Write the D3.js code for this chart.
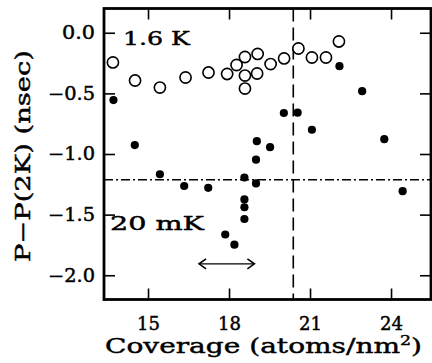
<!DOCTYPE html>
<html><head><meta charset="utf-8">
<script src="https://cdn.jsdelivr.net/npm/d3@7"></script>
<style>body{margin:0;background:#fff}svg{display:block}text{font-family:"DejaVu Serif",serif;fill:#000;stroke:#000;stroke-width:0.45px}</style>
</head><body><svg id="c" width="432" height="363"></svg>
<script>
// 1.6 K series (open circles)
const warmX = [13.70,14.52,15.44,16.39,17.24,17.93,18.28,18.59,19.06,18.59,19.04,18.59,19.54,20.04,20.57,21.07,21.59,22.07];
const warmY = [-0.245,-0.394,-0.452,-0.369,-0.328,-0.340,-0.266,-0.200,-0.175,-0.353,-0.336,-0.460,-0.258,-0.212,-0.130,-0.204,-0.204,-0.072];
// 20 mK series (filled dots)
const coldX = [13.72,14.51,15.44,16.34,17.23,17.86,18.20,18.57,18.57,18.57,18.57,19.00,19.00,19.03,19.52,20.03,20.54,21.07,22.09,22.93,23.75,24.43];
const coldY = [-0.555,-0.926,-1.167,-1.264,-1.279,-1.664,-1.748,-1.194,-1.375,-1.439,-1.536,-1.243,-1.047,-0.894,-0.944,-0.662,-0.659,-0.800,-0.276,-0.482,-0.878,-1.307];
const xTicks = [15,18,21,24];
const yTicks = [0,-0.5,-1.0,-1.5,-2.0];
const xDomain = [13.37,25.48];
const yDomain = [-2.2,0.2];
const vLineX = 20.38;      // dashed vertical line
const hLineY = -1.212;     // dash-dot horizontal line
const arrowX = [16.89,18.94];
const arrowY = -1.906;
const labels = [{t:"1.6 K",x:14.07,y:-0.101,w:67},{t:"20 mK",x:13.59,y:-1.627,w:94}];

const svg = d3.select("#c");
const L=104,R=431,T=8.5,B=299.5;
const x = d3.scaleLinear().domain(xDomain).range([L,R]);
const y = d3.scaleLinear().domain(yDomain).range([B,T]);

// reference lines
svg.append("line").attr("x1",x(vLineX)).attr("x2",x(vLineX)).attr("y1",T).attr("y2",B)
  .attr("stroke","#000").attr("stroke-width",1.6).attr("stroke-dasharray","13,6");
svg.append("line").attr("x1",L).attr("x2",R).attr("y1",y(hLineY)).attr("y2",y(hLineY))
  .attr("stroke","#000").attr("stroke-width",1.4).attr("stroke-dasharray","9,3,2,3");

// axes (inward ticks)
const tl=11;
svg.append("g").attr("transform",`translate(0,${B})`)
  .call(d3.axisBottom(x).tickValues(xTicks).tickSize(-tl).tickPadding(tl+7).tickFormat(d3.format("d")))
  .call(g=>{g.select(".domain").remove();g.selectAll("line").attr("stroke-width",1.6);
    g.selectAll("text").attr("font-size",18).attr("textLength",23).attr("lengthAdjust","spacingAndGlyphs");});
svg.append("g").attr("transform",`translate(0,${T})`)
  .call(d3.axisTop(x).tickValues(xTicks).tickSize(-tl).tickFormat(""))
  .call(g=>{g.select(".domain").remove();g.selectAll("line").attr("stroke-width",1.6);});
svg.append("g").attr("transform",`translate(${L},0)`)
  .call(d3.axisLeft(y).tickValues(yTicks).tickSize(-tl).tickPadding(9).tickFormat(d3.format(".1f")))
  .call(g=>{g.select(".domain").remove();g.selectAll("line").attr("stroke-width",1.6);
    g.selectAll("text").attr("font-size",18).attr("textLength",d=>d===0?33:47).attr("lengthAdjust","spacingAndGlyphs");});
svg.append("g").attr("transform",`translate(${R},0)`)
  .call(d3.axisRight(y).tickValues(yTicks).tickSize(-tl).tickFormat(""))
  .call(g=>{g.select(".domain").remove();g.selectAll("line").attr("stroke-width",1.6);});

svg.append("rect").attr("x",L).attr("y",T).attr("width",R-L).attr("height",B-T)
  .attr("fill","none").attr("stroke","#000").attr("stroke-width",2.8);

// points
svg.append("g").selectAll("circle").data(warmX).join("circle")
  .attr("cx",(d)=>x(d)).attr("cy",(d,i)=>y(warmY[i])).attr("r",5.6)
  .attr("fill","#fff").attr("stroke","#000").attr("stroke-width",1.6);
svg.append("g").selectAll("circle").data(coldX).join("circle")
  .attr("cx",(d)=>x(d)).attr("cy",(d,i)=>y(coldY[i])).attr("r",4.1).attr("fill","#000");

// double arrow
const ay=y(arrowY), ax1=x(arrowX[0]), ax2=x(arrowX[1]);
svg.append("line").attr("x1",ax1).attr("x2",ax2).attr("y1",ay).attr("y2",ay).attr("stroke","#000").attr("stroke-width",1.4);
svg.append("path").attr("d",`M${ax1+7},${ay-5}L${ax1},${ay}L${ax1+7},${ay+5}M${ax2-7},${ay-5}L${ax2},${ay}L${ax2-7},${ay+5}`)
  .attr("fill","none").attr("stroke","#000").attr("stroke-width",1.6);

// labels
svg.append("g").selectAll("text").data(labels).join("text")
  .attr("x",d=>x(d.x)).attr("y",d=>y(d.y)).attr("font-size",19)
  .attr("textLength",d=>d.w).attr("lengthAdjust","spacingAndGlyphs").text(d=>d.t);

// axis titles
const xt = svg.append("text").attr("x",105).attr("y",353).attr("font-size",21)
  .attr("textLength",317).attr("lengthAdjust","spacingAndGlyphs");
xt.append("tspan").text("Coverage (atoms/nm");
xt.append("tspan").attr("dy",-8).attr("font-size",13).text("2");
xt.append("tspan").attr("dy",8).text(")");
svg.append("text").attr("transform",`translate(30,${156}) rotate(-90)`).attr("text-anchor","middle")
  .attr("font-size",21).attr("textLength",212).attr("lengthAdjust","spacingAndGlyphs").text("P−P(2K) (nsec)");
</script></body></html>
